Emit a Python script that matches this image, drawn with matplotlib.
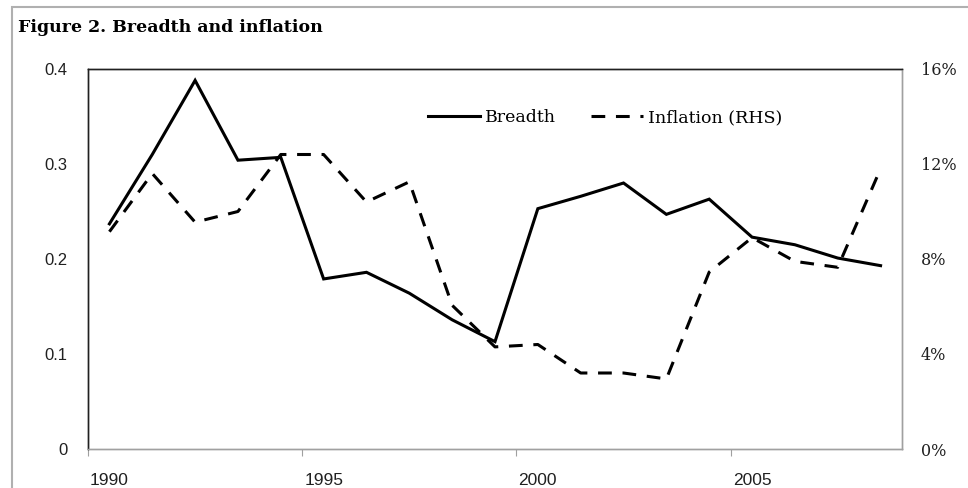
import numpy as np
import matplotlib
matplotlib.use("Agg")
import matplotlib.pyplot as plt
from matplotlib.patches import Rectangle

years = list(range(1990, 2009))
breadth = [0.237, 0.31, 0.388, 0.304, 0.307, 0.179, 0.186, 0.164, 0.136, 0.113,
           0.253, 0.266, 0.280, 0.247, 0.263, 0.223, 0.215, 0.201, 0.193]
inflation = [9.15, 11.6, 9.55, 10.0, 12.4, 12.4, 10.4, 11.25, 6.05, 4.3,
             4.4, 3.2, 3.2, 2.95, 7.45, 8.9, 7.9, 7.65, 11.8]
tick_years = [1990, 1995, 2000, 2005]
left_ticks = [0, 0.1, 0.2, 0.3, 0.4]
left_labels = ["0", "0.1", "0.2", "0.3", "0.4"]
right_ticks = [0, 4, 8, 12, 16]
right_labels = ["0%", "4%", "8%", "12%", "16%"]

serif = "DejaVu Serif"
sans = "Liberation Sans"

fig = plt.figure(figsize=(9.68, 4.88), dpi=100)
ax = fig.add_axes([88 / 968, 1 - 449 / 488, 814 / 968, 380 / 488])
ax2 = ax.twinx()

x = np.arange(len(years))
l1, = ax.plot(x, breadth, color="black", lw=2.2, solid_joinstyle="miter")
l2, = ax2.plot(x, inflation, color="black", lw=2.2, dashes=(4.5, 3.5))

ax.set_xlim(-0.5, len(years) - 0.5)
ax.set_ylim(0, 0.4)
ax2.set_ylim(0, 16)

# category axis: tick marks on boundaries, labels under the category
idx = [years.index(y) for y in tick_years]
ax.set_xticks([i - 0.5 for i in idx])
ax.set_xticklabels([])
ax.set_xticks(idx, minor=True)
ax.set_xticklabels([str(y) for y in tick_years], minor=True, fontsize=12.5, family=sans, color="#202020")
ax.tick_params(axis="x", which="major", length=5, color="#a0a0a0", direction="out")
ax.tick_params(axis="x", which="minor", length=0, pad=17)

ax.set_yticks(left_ticks)
ax.set_yticklabels(left_labels, fontsize=12, family=sans, color="#202020")
ax.tick_params(axis="y", length=0, pad=15)
ax2.set_yticks(right_ticks)
ax2.set_yticklabels(right_labels, fontsize=11.5, family=serif, color="#202020")
ax2.tick_params(axis="y", length=0, pad=13.5)

for a in (ax, ax2):
    a.spines["left"].set_color("#202020")
    a.spines["top"].set_color("#202020")
    a.spines["right"].set_color("#a0a0a0")
    a.spines["bottom"].set_color("#a0a0a0")
    for s in a.spines.values():
        s.set_linewidth(1.0)

leg = ax.legend([l1, l2], ["Breadth", "Inflation (RHS)"], loc="upper left",
                bbox_to_anchor=(0.398, 0.935), ncol=2, frameon=False,
                prop={"family": serif, "size": 12.5}, handlelength=3.0,
                handletextpad=0.3, columnspacing=2.0)

fig.text(18 / 968, 1 - 27 / 488, "Figure 2. Breadth and inflation", fontsize=12.5,
         fontweight="bold", family=serif, va="center", ha="left")

fig.patches.append(Rectangle((12 / 968, -0.05), 1.0, 1 - 7 / 488 + 0.05,
                             transform=fig.transFigure, fill=False,
                             edgecolor="#b0b0b0", lw=1.5))

fig.savefig("out.png", dpi=100)
